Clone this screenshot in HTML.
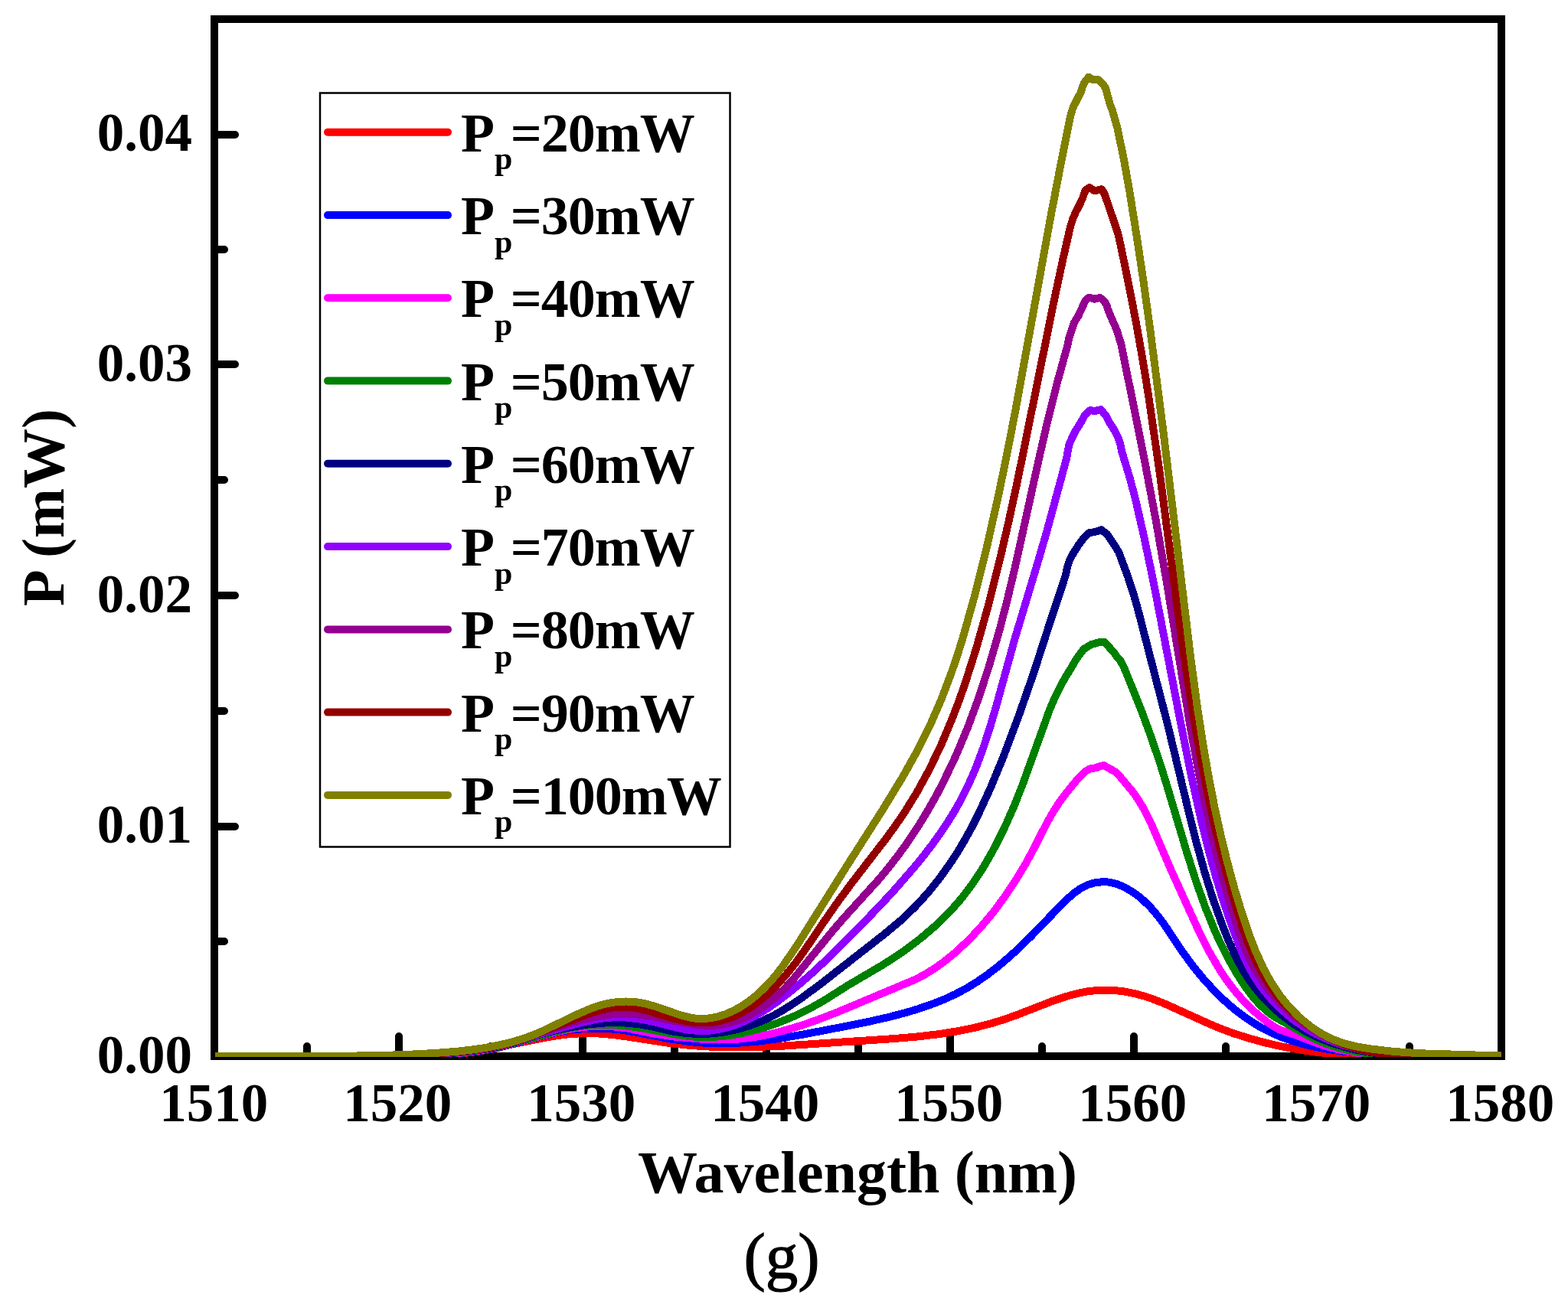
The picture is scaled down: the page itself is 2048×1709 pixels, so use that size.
<!DOCTYPE html>
<html><head><meta charset="utf-8"><style>
html,body{margin:0;padding:0;background:#fff;overflow:hidden;}
svg{display:block;}
text{font-family:"Liberation Serif","Times New Roman",serif;font-weight:bold;fill:#000;}
</style></head><body>
<svg width="2048" height="1709" viewBox="0 0 2048 1709" xmlns="http://www.w3.org/2000/svg">
<rect x="0" y="0" width="2048" height="1709" fill="#fff"/>
<defs><clipPath id="c"><rect x="281" y="25" width="1680" height="1356"/></clipPath></defs>
<rect x="280" y="25" width="1681" height="1355" fill="none" stroke="#000" stroke-width="10"/>
<path d="M280 176H307M280 476H307M280 778H307M280 1080H307M280 326H293M280 627H293M280 929H293M280 1230H293M521 1380V1354M761 1380V1354M1001 1380V1354M1241 1380V1354M1481 1380V1354M1721 1380V1354M401 1380V1367M641 1380V1367M881 1380V1367M1121 1380V1367M1361 1380V1367M1601 1380V1367M1841 1380V1367" stroke="#000" stroke-width="10" stroke-linecap="round" fill="none"/>
<text x="251" y="197.0" font-size="71" text-anchor="end">0.04</text>
<text x="251" y="498.2" font-size="71" text-anchor="end">0.03</text>
<text x="251" y="799.5" font-size="71" text-anchor="end">0.02</text>
<text x="251" y="1100.8" font-size="71" text-anchor="end">0.01</text>
<text x="251" y="1402.0" font-size="71" text-anchor="end">0.00</text>
<text x="279.2" y="1464.5" font-size="71" text-anchor="middle">1510</text>
<text x="519.2" y="1464.5" font-size="71" text-anchor="middle">1520</text>
<text x="759.2" y="1464.5" font-size="71" text-anchor="middle">1530</text>
<text x="999.2" y="1464.5" font-size="71" text-anchor="middle">1540</text>
<text x="1239.2" y="1464.5" font-size="71" text-anchor="middle">1550</text>
<text x="1479.2" y="1464.5" font-size="71" text-anchor="middle">1560</text>
<text x="1719.2" y="1464.5" font-size="71" text-anchor="middle">1570</text>
<text x="1959.2" y="1464.5" font-size="71" text-anchor="middle">1580</text>
<text x="1120" y="1558" font-size="78" text-anchor="middle" letter-spacing="0">Wavelength (nm)</text>
<text transform="translate(83 663) rotate(-90)" x="0" y="0" font-size="78" text-anchor="middle">P (mW)</text>
<text x="1021" y="1670" font-size="85" text-anchor="middle" style="font-weight:normal" stroke="#000" stroke-width="1.2">(g)</text>
<rect x="418" y="121.5" width="535.5" height="985" fill="none" stroke="#000" stroke-width="2.5"/>
<path d="M428 172.8H585" stroke="#FF0000" stroke-width="10" stroke-linecap="round"/>
<text x="602" y="197.8" font-size="72">P<tspan font-size="42" dy="23.5">p</tspan><tspan dy="-23.5" dx="-2.5" letter-spacing="-1">=20mW</tspan></text>
<path d="M428 281.1H585" stroke="#0000FF" stroke-width="10" stroke-linecap="round"/>
<text x="602" y="306.1" font-size="72">P<tspan font-size="42" dy="23.5">p</tspan><tspan dy="-23.5" dx="-2.5" letter-spacing="-1">=30mW</tspan></text>
<path d="M428 389.3H585" stroke="#FF00FF" stroke-width="10" stroke-linecap="round"/>
<text x="602" y="414.3" font-size="72">P<tspan font-size="42" dy="23.5">p</tspan><tspan dy="-23.5" dx="-2.5" letter-spacing="-1">=40mW</tspan></text>
<path d="M428 497.6H585" stroke="#008000" stroke-width="10" stroke-linecap="round"/>
<text x="602" y="522.6" font-size="72">P<tspan font-size="42" dy="23.5">p</tspan><tspan dy="-23.5" dx="-2.5" letter-spacing="-1">=50mW</tspan></text>
<path d="M428 605.8H585" stroke="#000080" stroke-width="10" stroke-linecap="round"/>
<text x="602" y="630.8" font-size="72">P<tspan font-size="42" dy="23.5">p</tspan><tspan dy="-23.5" dx="-2.5" letter-spacing="-1">=60mW</tspan></text>
<path d="M428 714.1H585" stroke="#8F00FF" stroke-width="10" stroke-linecap="round"/>
<text x="602" y="739.1" font-size="72">P<tspan font-size="42" dy="23.5">p</tspan><tspan dy="-23.5" dx="-2.5" letter-spacing="-1">=70mW</tspan></text>
<path d="M428 822.4H585" stroke="#940090" stroke-width="10" stroke-linecap="round"/>
<text x="602" y="847.4" font-size="72">P<tspan font-size="42" dy="23.5">p</tspan><tspan dy="-23.5" dx="-2.5" letter-spacing="-1">=80mW</tspan></text>
<path d="M428 930.6H585" stroke="#940000" stroke-width="10" stroke-linecap="round"/>
<text x="602" y="955.6" font-size="72">P<tspan font-size="42" dy="23.5">p</tspan><tspan dy="-23.5" dx="-2.5" letter-spacing="-1">=90mW</tspan></text>
<path d="M428 1038.9H585" stroke="#808000" stroke-width="10" stroke-linecap="round"/>
<text x="602" y="1063.9" font-size="72">P<tspan font-size="42" dy="23.5">p</tspan><tspan dy="-23.5" dx="-2.5" letter-spacing="-1">=100mW</tspan></text>
<g clip-path="url(#c)" fill="none" stroke-width="10" stroke-linejoin="round" stroke-linecap="round" shape-rendering="crispEdges">
<path stroke="#FF0000" d="M281.2 1380.0 L558.7 1380.0 L597.6 1376.9 L625.1 1373.6 L647.8 1369.6 L671.3 1363.9 L715.0 1355.1 L739.4 1351.6 L761.2 1350.1 L780.3 1350.3 L801.6 1352.2 L821.8 1354.9 L869.6 1362.3 L894.3 1365.3 L920.2 1367.3 L947.8 1368.3 L982.4 1368.2 L1021.5 1366.7 L1167.2 1357.1 L1198.7 1354.4 L1225.9 1351.2 L1250.5 1347.3 L1273.6 1342.6 L1294.2 1337.4 L1313.9 1331.2 L1330.8 1325.1 L1373.8 1308.3 L1396.8 1300.7 L1409.2 1297.5 L1420.8 1295.3 L1432.4 1294.0 L1444.0 1293.6 L1456.6 1294.1 L1469.3 1295.6 L1481.9 1298.1 L1494.8 1301.6 L1506.9 1305.7 L1520.3 1311.0 L1580.7 1338.3 L1595.5 1344.4 L1610.6 1350.0 L1630.7 1356.4 L1651.3 1362.1 L1672.3 1367.0 L1694.2 1371.1 L1714.9 1374.2 L1736.2 1376.7 L1758.4 1378.6 L1782.0 1380.0 L1929.2 1380.0 L1955.2 1379.5"/>
<path stroke="#0000FF" d="M280.6 1380.0 L553.9 1380.0 L600.8 1376.2 L617.4 1374.3 L632.8 1372.0 L646.9 1369.4 L660.5 1366.3 L687.0 1359.4 L710.0 1353.0 L731.0 1347.8 L753.0 1344.9 L773.5 1343.6 L793.1 1343.9 L812.1 1345.7 L830.5 1348.7 L875.7 1357.5 L903.1 1361.3 L917.9 1362.5 L932.7 1363.2 L947.5 1363.3 L962.3 1362.9 L989.2 1360.7 L1018.9 1356.8 L1050.4 1351.3 L1109.3 1340.0 L1137.1 1334.3 L1159.5 1329.2 L1179.8 1324.0 L1198.4 1318.5 L1215.7 1312.6 L1232.1 1306.2 L1247.2 1299.3 L1261.7 1291.7 L1275.4 1283.3 L1289.4 1273.6 L1303.5 1262.8 L1318.0 1250.5 L1331.9 1237.8 L1346.8 1223.2 L1390.7 1177.6 L1403.2 1166.5 L1412.2 1160.3 L1421.4 1155.8 L1431.0 1153.1 L1440.9 1152.2 L1447.1 1152.5 L1453.3 1153.6 L1459.8 1155.5 L1466.2 1158.1 L1473.0 1161.6 L1479.8 1165.8 L1486.5 1170.6 L1493.2 1176.2 L1503.2 1186.0 L1512.9 1197.4 L1522.5 1210.5 L1544.2 1243.1 L1555.7 1259.0 L1571.0 1278.1 L1586.9 1295.4 L1596.2 1304.5 L1605.8 1313.2 L1615.5 1321.2 L1625.3 1328.5 L1635.1 1335.2 L1645.1 1341.3 L1655.1 1346.7 L1665.4 1351.6 L1676.1 1356.0 L1687.4 1359.9 L1699.4 1363.4 L1712.3 1366.6 L1726.2 1369.4 L1741.6 1372.0 L1774.8 1376.1 L1808.5 1378.6 L1846.1 1380.0 L1958.5 1379.9"/>
<path stroke="#FF00FF" d="M281.0 1380.0 L547.6 1380.0 L601.0 1375.8 L619.4 1373.6 L636.5 1371.0 L661.3 1365.7 L687.4 1359.0 L709.8 1352.6 L732.2 1347.1 L751.6 1343.3 L768.7 1341.3 L786.8 1340.6 L805.5 1341.7 L821.9 1343.9 L857.0 1351.0 L880.4 1354.5 L914.1 1357.5 L943.1 1358.5 L955.4 1358.2 L967.4 1357.3 L979.6 1355.9 L992.2 1353.9 L1005.0 1351.4 L1018.5 1348.1 L1046.7 1339.9 L1068.8 1332.1 L1093.0 1322.8 L1195.2 1279.9 L1208.0 1273.2 L1220.8 1265.2 L1233.8 1255.9 L1246.8 1245.3 L1264.3 1229.2 L1281.1 1211.4 L1297.6 1191.6 L1313.3 1170.3 L1326.6 1150.2 L1339.6 1128.5 L1350.5 1108.5 L1366.3 1077.2 L1373.8 1063.7 L1382.9 1049.3 L1392.3 1036.5 L1409.0 1016.1 L1418.4 1007.5 L1423.1 1004.6 L1432.5 1003.0 L1437.1 1000.9 L1441.8 1000.1 L1455.9 1007.9 L1460.5 1011.7 L1479.6 1034.7 L1486.4 1044.5 L1492.8 1055.0 L1498.2 1065.1 L1503.6 1076.3 L1528.3 1134.0 L1565.0 1214.8 L1579.5 1243.7 L1593.3 1267.4 L1600.2 1277.8 L1607.2 1287.4 L1614.4 1296.5 L1621.9 1305.2 L1629.9 1313.5 L1638.0 1321.3 L1646.1 1328.3 L1654.6 1334.9 L1664.8 1341.9 L1671.5 1345.5 L1691.5 1352.0 L1721.9 1363.7 L1733.2 1367.3 L1745.4 1370.6 L1758.0 1373.3 L1771.1 1375.5 L1796.9 1378.4 L1826.0 1379.8 L1853.4 1380.0 L1919.3 1379.1 L1960.3 1380.0"/>
<path stroke="#008000" d="M280.8 1380.0 L541.3 1380.0 L587.8 1376.6 L618.2 1373.4 L644.8 1369.0 L659.8 1365.7 L682.3 1359.9 L723.5 1348.4 L741.1 1344.0 L761.0 1340.3 L779.4 1338.7 L799.7 1338.9 L821.8 1340.9 L842.9 1344.1 L883.8 1351.8 L901.5 1354.2 L918.3 1355.2 L935.8 1354.6 L948.4 1353.4 L961.6 1351.4 L975.1 1348.7 L988.6 1345.3 L1001.9 1341.4 L1015.1 1336.8 L1028.5 1331.5 L1041.7 1325.7 L1058.8 1317.1 L1076.0 1307.4 L1106.6 1288.0 L1152.3 1261.1 L1167.5 1251.4 L1181.7 1241.7 L1203.3 1225.4 L1222.8 1208.7 L1240.2 1191.7 L1255.8 1173.9 L1270.9 1153.9 L1285.2 1131.9 L1298.8 1107.9 L1312.0 1081.5 L1323.7 1055.1 L1335.5 1025.5 L1370.9 927.5 L1378.3 910.2 L1386.7 893.6 L1392.9 882.7 L1399.7 871.8 L1404.8 862.5 L1415.1 848.4 L1425.4 842.0 L1438.1 838.6 L1442.8 839.0 L1455.4 853.1 L1458.7 857.8 L1462.9 862.5 L1468.0 871.8 L1490.7 928.2 L1503.5 962.8 L1515.8 999.4 L1526.1 1032.8 L1549.6 1111.9 L1561.7 1150.1 L1574.0 1184.8 L1586.4 1215.4 L1593.3 1230.6 L1600.6 1245.2 L1607.9 1259.0 L1615.5 1272.2 L1623.3 1284.4 L1630.4 1294.8 L1637.7 1304.1 L1644.7 1311.9 L1654.6 1321.2 L1665.0 1328.8 L1709.5 1353.6 L1722.4 1359.8 L1734.9 1364.7 L1748.4 1369.0 L1762.5 1372.5 L1776.1 1375.0 L1790.6 1377.0 L1806.1 1378.5 L1822.5 1379.3 L1852.5 1379.8 L1921.5 1379.1 L1960.6 1380.0"/>
<path stroke="#000080" d="M280.9 1380.0 L534.1 1380.0 L589.8 1376.0 L622.8 1372.3 L637.6 1370.0 L652.0 1367.1 L673.4 1361.7 L684.9 1358.1 L696.5 1353.9 L716.6 1348.3 L741.8 1342.8 L768.2 1338.4 L792.1 1336.3 L812.8 1336.2 L833.1 1338.0 L849.3 1340.8 L878.8 1347.6 L895.5 1350.0 L913.0 1351.0 L930.3 1350.4 L942.3 1349.0 L954.1 1346.9 L965.8 1344.2 L977.4 1340.7 L988.9 1336.5 L1000.5 1331.6 L1012.0 1325.9 L1023.2 1319.6 L1044.7 1305.7 L1070.6 1286.6 L1154.4 1221.1 L1176.0 1203.1 L1194.3 1185.8 L1211.3 1167.3 L1227.5 1147.2 L1243.0 1125.3 L1251.9 1111.4 L1260.5 1096.8 L1268.9 1081.6 L1277.2 1065.3 L1293.5 1030.1 L1310.2 989.6 L1330.7 935.1 L1350.2 879.2 L1373.3 807.5 L1387.2 766.0 L1392.3 749.9 L1394.2 740.5 L1397.3 731.2 L1402.4 721.8 L1408.5 712.5 L1415.3 703.1 L1422.8 696.1 L1429.8 695.1 L1438.7 692.3 L1446.4 698.4 L1455.8 712.5 L1461.4 721.8 L1472.9 752.8 L1481.2 778.1 L1487.0 799.1 L1525.0 946.3 L1553.5 1064.5 L1562.2 1099.1 L1573.4 1139.6 L1584.5 1175.2 L1597.8 1212.2 L1604.9 1229.6 L1611.5 1244.5 L1617.6 1256.9 L1623.9 1268.2 L1630.4 1278.6 L1637.5 1288.5 L1648.9 1302.3 L1661.6 1315.4 L1675.4 1327.4 L1689.7 1338.0 L1704.3 1347.0 L1719.8 1354.9 L1736.2 1361.6 L1753.9 1367.3 L1771.5 1371.7 L1789.9 1375.0 L1809.9 1377.6 L1831.7 1379.4 L1844.8 1380.0 L1923.8 1380.0 L1960.6 1379.6"/>
<path stroke="#8F00FF" d="M280.3 1380.0 L526.0 1380.0 L551.6 1378.5 L598.6 1374.8 L627.8 1371.2 L654.2 1366.2 L672.8 1361.5 L684.7 1357.8 L697.0 1353.3 L757.1 1336.5 L779.9 1331.6 L790.4 1330.1 L800.0 1329.4 L808.7 1329.2 L817.8 1329.5 L837.0 1331.7 L853.1 1334.9 L886.6 1343.4 L901.3 1346.1 L914.7 1347.1 L928.0 1346.5 L938.5 1345.0 L949.3 1342.6 L959.9 1339.3 L970.7 1335.0 L981.6 1329.8 L992.6 1323.7 L1004.1 1316.5 L1016.0 1308.2 L1030.5 1297.1 L1046.0 1284.3 L1061.6 1270.6 L1077.8 1255.5 L1098.3 1235.6 L1125.3 1208.2 L1147.9 1184.8 L1166.7 1164.6 L1194.3 1133.0 L1206.3 1118.2 L1217.6 1103.5 L1227.8 1089.2 L1237.3 1075.1 L1246.1 1061.0 L1254.0 1047.0 L1264.8 1025.7 L1274.7 1002.9 L1284.1 977.8 L1293.5 949.0 L1302.0 919.8 L1325.4 834.9 L1356.8 730.4 L1367.8 692.5 L1392.8 599.9 L1396.3 581.2 L1400.3 571.8 L1405.0 562.5 L1411.1 553.1 L1416.2 543.7 L1423.7 536.0 L1429.3 537.2 L1437.8 535.1 L1445.0 543.7 L1449.7 553.1 L1455.8 562.5 L1460.5 571.8 L1463.5 581.2 L1465.4 590.5 L1475.6 624.1 L1482.9 651.8 L1494.3 701.7 L1506.4 759.5 L1542.6 947.3 L1555.8 1012.9 L1568.7 1071.2 L1581.5 1121.8 L1588.7 1147.5 L1596.1 1171.8 L1603.9 1195.5 L1612.0 1218.2 L1619.1 1236.8 L1625.5 1251.8 L1631.9 1264.7 L1638.6 1276.5 L1648.9 1291.6 L1661.0 1306.2 L1674.2 1319.6 L1688.5 1331.7 L1703.2 1342.1 L1718.6 1351.0 L1735.5 1358.8 L1753.3 1365.3 L1771.7 1370.4 L1791.0 1374.4 L1811.6 1377.4 L1834.0 1379.5 L1843.4 1380.0 L1932.5 1380.0 L1959.9 1379.3"/>
<path stroke="#940090" d="M281.1 1380.0 L516.4 1380.0 L550.3 1378.2 L603.5 1373.9 L633.4 1369.9 L647.2 1367.3 L660.1 1364.4 L681.2 1358.5 L693.9 1354.1 L706.1 1349.2 L736.3 1339.4 L755.4 1333.8 L769.1 1330.3 L781.9 1327.7 L793.7 1325.9 L805.1 1324.8 L821.6 1324.6 L838.8 1326.1 L855.0 1328.8 L892.6 1336.4 L909.8 1339.0 L924.2 1339.9 L937.5 1339.4 L946.7 1338.0 L956.3 1335.6 L965.7 1332.4 L975.0 1328.4 L984.4 1323.4 L993.6 1317.7 L1002.9 1311.0 L1012.2 1303.4 L1025.1 1291.2 L1038.5 1276.5 L1088.1 1215.6 L1103.5 1197.9 L1146.7 1150.3 L1160.0 1134.4 L1172.8 1118.0 L1183.2 1103.6 L1193.5 1088.5 L1203.3 1073.2 L1213.0 1057.0 L1222.3 1040.6 L1231.1 1023.9 L1248.1 988.4 L1263.7 951.3 L1278.3 911.8 L1292.1 869.5 L1305.3 823.9 L1315.3 785.3 L1325.6 742.0 L1356.8 600.3 L1368.4 549.7 L1380.4 501.8 L1394.7 449.9 L1396.6 440.5 L1402.9 421.8 L1408.5 412.5 L1417.2 393.7 L1422.3 388.6 L1429.8 390.7 L1436.8 389.0 L1442.4 393.7 L1445.3 398.4 L1446.7 403.1 L1450.4 412.5 L1458.6 431.2 L1464.4 449.9 L1493.3 593.0 L1509.1 676.4 L1523.5 758.6 L1554.6 949.1 L1564.7 1004.5 L1574.7 1054.2 L1582.4 1088.7 L1590.2 1121.1 L1598.5 1152.3 L1607.0 1181.9 L1616.2 1211.2 L1623.5 1232.2 L1630.5 1249.4 L1637.9 1264.4 L1647.9 1281.0 L1659.8 1297.1 L1673.1 1312.1 L1687.6 1325.8 L1703.1 1338.0 L1719.6 1348.6 L1736.9 1357.7 L1754.9 1365.1 L1769.7 1369.8 L1785.3 1373.5 L1802.3 1376.3 L1820.6 1378.1 L1850.1 1379.3 L1920.7 1378.9 L1959.9 1380.0"/>
<path stroke="#940000" d="M281.1 1380.0 L504.3 1380.0 L549.7 1377.9 L590.0 1374.8 L612.7 1372.5 L628.9 1370.2 L644.5 1367.5 L659.0 1364.3 L672.9 1360.6 L693.7 1353.8 L757.0 1329.0 L772.2 1323.4 L782.2 1320.4 L791.6 1318.1 L800.0 1316.5 L808.5 1315.6 L821.7 1315.7 L834.4 1317.6 L847.2 1320.8 L878.4 1330.5 L897.0 1334.5 L905.7 1335.7 L914.4 1336.2 L923.0 1336.2 L931.0 1335.6 L940.6 1333.9 L950.4 1331.1 L960.6 1327.1 L970.5 1322.1 L980.5 1316.0 L990.6 1308.8 L1000.6 1300.6 L1010.7 1291.1 L1025.6 1275.0 L1040.5 1256.3 L1052.2 1239.9 L1080.9 1197.5 L1096.9 1174.8 L1113.1 1153.0 L1157.0 1096.0 L1169.6 1078.7 L1180.4 1063.0 L1197.6 1035.2 L1214.1 1004.9 L1229.5 972.7 L1244.0 938.1 L1252.1 916.9 L1259.9 895.0 L1275.1 847.3 L1290.3 793.2 L1306.2 730.0 L1317.5 681.3 L1329.1 627.8 L1377.1 391.1 L1388.0 340.2 L1398.2 295.5 L1401.2 286.2 L1405.2 276.8 L1410.1 267.5 L1414.3 258.1 L1417.6 248.7 L1423.0 245.1 L1429.8 249.3 L1438.9 247.2 L1442.7 253.4 L1460.2 304.9 L1464.4 323.7 L1477.2 386.7 L1484.1 422.7 L1492.1 467.7 L1499.9 515.8 L1514.2 614.1 L1537.2 789.7 L1546.8 859.3 L1557.9 931.3 L1569.2 996.0 L1577.3 1036.9 L1585.7 1075.6 L1594.7 1113.1 L1604.0 1148.9 L1614.2 1184.6 L1623.0 1212.2 L1631.3 1235.0 L1640.0 1255.2 L1650.1 1274.5 L1660.9 1291.4 L1672.5 1306.4 L1686.1 1320.6 L1701.4 1333.9 L1717.6 1345.4 L1726.6 1350.9 L1735.3 1355.6 L1753.5 1363.8 L1768.7 1369.0 L1783.8 1372.9 L1800.2 1375.8 L1818.1 1377.8 L1833.8 1378.7 L1851.3 1379.1 L1922.3 1378.4 L1938.1 1378.9 L1952.0 1380.0 L1958.4 1380.0"/>
<path stroke="#808000" d="M281.1 1380.0 L423.3 1380.1 L496.1 1379.1 L534.2 1377.8 L569.1 1375.9 L596.3 1373.8 L619.1 1371.2 L636.6 1368.5 L652.8 1365.3 L668.3 1361.5 L683.0 1357.1 L696.0 1352.5 L708.8 1347.1 L753.4 1325.5 L771.5 1317.7 L781.4 1314.2 L790.8 1311.6 L800.2 1309.8 L809.2 1308.8 L817.6 1308.5 L826.2 1308.8 L834.8 1309.8 L842.9 1311.3 L856.4 1315.1 L888.1 1326.1 L902.4 1329.8 L909.0 1330.7 L914.9 1331.1 L927.1 1330.4 L937.3 1328.4 L947.4 1325.2 L957.6 1320.7 L968.0 1315.1 L977.8 1308.5 L987.6 1300.8 L996.7 1292.4 L1006.2 1282.5 L1014.3 1273.0 L1022.3 1262.5 L1040.1 1236.6 L1104.5 1134.0 L1152.6 1058.5 L1178.6 1015.8 L1198.5 980.3 L1214.8 947.5 L1229.5 913.9 L1243.0 878.1 L1250.5 856.0 L1258.0 832.0 L1273.2 777.8 L1289.0 714.3 L1304.5 645.4 L1315.1 594.0 L1326.2 537.0 L1371.8 285.9 L1386.4 209.8 L1397.3 155.2 L1400.5 143.5 L1402.8 137.7 L1411.9 120.1 L1413.6 114.3 L1416.0 108.4 L1422.1 100.5 L1426.2 103.7 L1429.0 104.3 L1434.9 104.3 L1438.0 107.2 L1443.8 114.3 L1450.2 137.7 L1452.6 143.5 L1459.3 166.9 L1467.7 207.1 L1475.3 249.8 L1484.1 305.0 L1493.3 366.2 L1502.4 431.6 L1519.9 567.4 L1555.1 859.0 L1563.8 923.6 L1572.5 979.8 L1579.4 1018.9 L1586.6 1055.6 L1594.4 1090.9 L1602.7 1125.0 L1612.0 1159.6 L1622.1 1192.9 L1631.2 1220.2 L1640.1 1243.1 L1649.7 1264.2 L1659.9 1282.8 L1670.9 1299.5 L1683.0 1314.7 L1696.2 1328.3 L1710.6 1340.2 L1718.5 1345.8 L1726.3 1350.6 L1734.2 1354.9 L1741.9 1358.4 L1755.3 1363.3 L1770.8 1367.2 L1790.7 1370.5 L1814.8 1373.3 L1837.2 1375.2 L1862.2 1376.5 L1958.9 1379.5"/>
</g>
</svg>
</body></html>
